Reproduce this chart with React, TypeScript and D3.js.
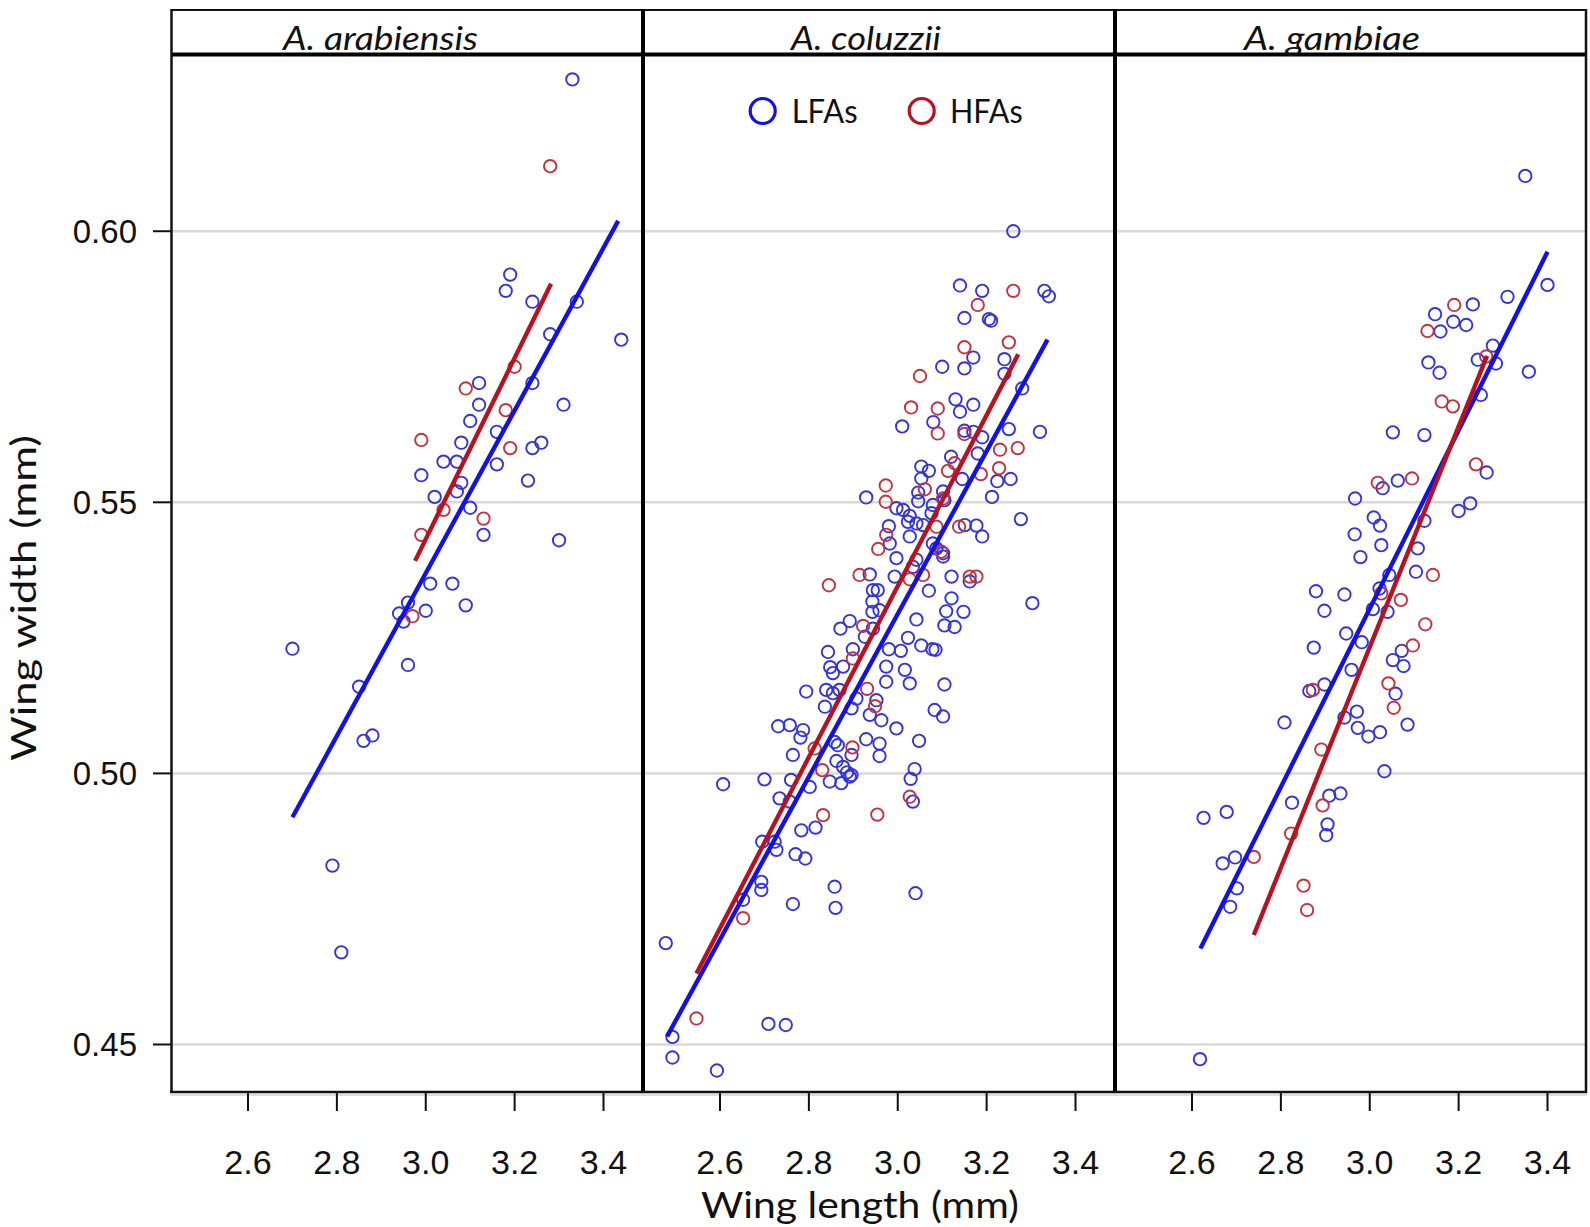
import React from "react";
import * as d3 from "d3";

// ---------------- DATA ----------------
const PANEL_TITLES = ["A. arabiensis", "A. coluzzii", "A. gambiae"];
const X_TICKS = [2.6, 2.8, 3.0, 3.2, 3.4];
const Y_TICKS = [0.45, 0.5, 0.55, 0.6];
const LEGEND_LABELS = ["LFAs", "HFAs"];

const arabiensisLFA: [number, number][] = [
  [3.33, 0.628], [3.19, 0.592], [3.18, 0.589], [3.24, 0.587], [3.34, 0.587], [3.28, 0.581], [3.44, 0.58],
  [3.12, 0.572], [3.24, 0.572], [3.31, 0.568], [3.12, 0.568], [3.1, 0.565], [3.16, 0.563], [3.08, 0.561],
  [3.26, 0.561], [3.24, 0.56], [3.04, 0.5575], [3.07, 0.5575], [3.16, 0.557], [2.99, 0.555], [3.23, 0.554],
  [3.08, 0.5536], [3.07, 0.552], [3.02, 0.551], [3.1, 0.549], [3.13, 0.544], [3.3, 0.543],
  [3.01, 0.535], [3.06, 0.535], [2.96, 0.5315], [2.94, 0.5295], [2.95, 0.528], [3.0, 0.53], [3.09, 0.531],
  [2.7, 0.523], [2.96, 0.52], [2.85, 0.516], [2.88, 0.507], [2.86, 0.506], [2.79, 0.483], [2.81, 0.467],
];
const arabiensisHFA: [number, number][] = [
  [3.28, 0.612], [3.2, 0.575], [3.09, 0.571], [3.18, 0.567], [2.99, 0.5615], [3.19, 0.56], [3.04, 0.5486],
  [3.13, 0.547], [2.99, 0.544], [2.97, 0.529],
];
const arabiensisFitLFA: [number, number][] = [[2.7, 0.4919], [3.433, 0.6019]];
const arabiensisFitHFA: [number, number][] = [[2.976, 0.5392], [3.282, 0.5903]];

const coluzziiLFA: [number, number][] = [
  [3.26, 0.6], [3.14, 0.59], [3.19, 0.589], [3.33, 0.589], [3.34, 0.588], [3.15, 0.584], [3.21, 0.5835],
  [3.205, 0.5838], [3.17, 0.5767], [3.1, 0.575], [3.15, 0.5747], [3.24, 0.5764], [3.24, 0.5737], [3.28, 0.571],
  [3.13, 0.569], [3.17, 0.568], [3.14, 0.5667], [3.08, 0.5648], [3.01, 0.564], [3.25, 0.5635], [3.32, 0.563],
  [3.15, 0.5632], [3.17, 0.563], [3.19, 0.562], [3.12, 0.5584], [3.18, 0.559],
  [3.053, 0.5566], [3.07, 0.5558], [3.053, 0.5544], [3.145, 0.5543], [3.224, 0.5539], [3.254, 0.5543],
  [2.929, 0.5509], [3.046, 0.5518], [3.046, 0.5502], [3.102, 0.552], [3.212, 0.551], [2.997, 0.5489],
  [3.012, 0.5486], [3.027, 0.5475], [3.023, 0.5464], [3.042, 0.5461], [3.057, 0.5458], [3.079, 0.5495],
  [3.076, 0.548], [3.105, 0.5504], [3.277, 0.5469], [2.98, 0.5456], [3.151, 0.5458], [3.177, 0.5457],
  [3.19, 0.5437], [3.027, 0.5437], [2.982, 0.5424], [3.079, 0.5424], [3.087, 0.5415], [3.102, 0.5406],
  [3.102, 0.54], [2.997, 0.5397], [3.042, 0.5394], [3.034, 0.5381], [2.937, 0.5367], [2.993, 0.5363],
  [3.121, 0.5363], [3.162, 0.5354], [2.944, 0.5338], [2.955, 0.5338], [3.07, 0.5337], [2.943, 0.5317],
  [3.121, 0.5323], [2.943, 0.5298], [2.959, 0.5301], [3.109, 0.5299], [3.148, 0.5298], [3.303, 0.5314],
  [3.042, 0.5284], [2.892, 0.5281], [2.871, 0.5267], [3.105, 0.5273], [3.128, 0.527], [2.944, 0.5267],
  [2.926, 0.5252], [3.023, 0.525], [2.843, 0.5224], [2.899, 0.5229], [2.98, 0.5229], [3.007, 0.5226],
  [3.053, 0.5236], [3.078, 0.5229], [3.085, 0.5228], [2.848, 0.5196], [2.877, 0.5197], [2.854, 0.5185],
  [2.974, 0.5197], [3.016, 0.5191],
  [2.974, 0.5169], [3.027, 0.5166], [3.105, 0.5164], [2.794, 0.5151], [2.839, 0.5154], [2.854, 0.5148],
  [2.869, 0.5154], [2.907, 0.5138], [2.836, 0.5123], [2.896, 0.512], [2.952, 0.5135], [2.937, 0.5108],
  [2.963, 0.5098], [2.997, 0.5083], [3.083, 0.5117], [3.102, 0.5105], [2.731, 0.5087], [2.757, 0.5089],
  [2.787, 0.508], [2.781, 0.5066], [2.858, 0.5058], [2.865, 0.5052], [2.929, 0.5063], [2.959, 0.5055],
  [3.048, 0.506], [2.764, 0.5034], [2.896, 0.5034], [2.959, 0.5032], [2.862, 0.5023], [2.877, 0.5012],
  [2.886, 0.5002], [2.896, 0.4997], [3.038, 0.5008], [2.607, 0.498], [2.7, 0.4989], [2.76, 0.4988],
  [2.802, 0.4975], [2.847, 0.4985], [2.873, 0.4982], [2.892, 0.4994], [3.029, 0.499], [2.734, 0.4954],
  [2.757, 0.4948], [3.034, 0.4948], [2.783, 0.4895], [2.815, 0.49], [2.695, 0.4874], [2.723, 0.4874],
  [2.727, 0.4859], [2.77, 0.4851], [2.792, 0.4843], [2.693, 0.48], [2.693, 0.4785], [2.858, 0.4791],
  [3.04, 0.4779],
  [2.652, 0.4767], [2.764, 0.4759], [2.86, 0.4752], [2.478, 0.4687], [2.493, 0.4514], [2.493, 0.4476],
  [2.593, 0.4452], [2.709, 0.4538], [2.748, 0.4536],
];
const coluzziiHFA: [number, number][] = [
  [3.26, 0.589], [3.18, 0.5864], [3.15, 0.5786], [3.25, 0.5795], [3.05, 0.5733], [3.03, 0.5675], [3.09, 0.5673],
  [3.09, 0.5627], [3.15, 0.5626], [3.23, 0.5597], [3.27, 0.56],
  [3.113, 0.5558], [3.128, 0.5572], [3.187, 0.5552], [3.228, 0.5563], [2.973, 0.5531], [2.973, 0.5501],
  [3.061, 0.5524], [3.102, 0.5507], [3.087, 0.5455], [3.138, 0.5455], [2.974, 0.544], [2.956, 0.5414],
  [3.098, 0.5409], [2.914, 0.5366], [2.845, 0.5347], [3.027, 0.5358], [3.057, 0.5366], [3.162, 0.5363],
  [3.177, 0.5363], [2.922, 0.5272], [2.899, 0.5212],
  [2.931, 0.5156], [2.949, 0.5124], [2.813, 0.5046], [2.898, 0.5048], [2.83, 0.5006], [3.027, 0.4957],
  [2.832, 0.4923], [2.954, 0.4924],
  [2.652, 0.4733], [2.547, 0.4548],
];
const coluzziiFitLFA: [number, number][] = [[2.481, 0.4515], [3.337, 0.58]];
const coluzziiFitHFA: [number, number][] = [[2.547, 0.4631], [3.271, 0.5773]];

const gambiaeLFA: [number, number][] = [
  [3.35, 0.6102], [3.4, 0.5901], [3.31, 0.5879], [3.232, 0.5865], [3.147, 0.5847], [3.188, 0.5833],
  [3.217, 0.5827], [3.159, 0.5815], [3.277, 0.5789], [3.243, 0.5763], [3.284, 0.5756], [3.132, 0.5758],
  [3.157, 0.5739], [3.358, 0.5741], [3.25, 0.5698], [3.052, 0.5629], [3.123, 0.5624], [3.263, 0.5555],
  [3.063, 0.554], [3.029, 0.5526], [2.967, 0.5507], [3.226, 0.5498], [3.2, 0.5484], [3.009, 0.5472],
  [3.023, 0.5457], [3.123, 0.5466], [2.966, 0.5441], [3.026, 0.5421], [3.108, 0.5415], [2.979, 0.5399],
  [3.104, 0.5372], [3.044, 0.5366],
  [2.879, 0.5336], [2.943, 0.533], [3.022, 0.5341], [3.007, 0.5303], [3.04, 0.5298], [2.898, 0.53],
  [2.947, 0.5258], [2.982, 0.5242], [2.874, 0.5232], [3.072, 0.5226], [3.052, 0.5209], [3.076, 0.5198],
  [2.959, 0.5191], [2.898, 0.5164], [2.864, 0.5152], [3.058, 0.5147], [2.808, 0.5094], [2.971, 0.5114],
  [2.943, 0.5103], [2.973, 0.5084], [2.997, 0.5068], [3.023, 0.5076], [3.085, 0.509], [3.033, 0.5004],
  [2.909, 0.4959], [2.934, 0.4963], [2.825, 0.4946], [2.626, 0.4918], [2.678, 0.4929], [2.905, 0.4906],
  [2.902, 0.4886], [2.669, 0.4834], [2.697, 0.4845], [2.701, 0.4788], [2.686, 0.4754], [2.618, 0.4473],
];
const gambiaeHFA: [number, number][] = [
  [3.19, 0.5864], [3.13, 0.5816], [3.262, 0.5769], [3.162, 0.5686], [3.187, 0.5677], [3.239, 0.557],
  [3.018, 0.5536], [3.095, 0.5544], [3.142, 0.5366], [3.026, 0.5332], [3.07, 0.532], [3.125, 0.5275],
  [3.097, 0.5236], [3.042, 0.5166], [3.054, 0.5121], [2.872, 0.5154], [2.891, 0.5044], [2.894, 0.4941],
  [2.823, 0.4889], [2.739, 0.4846], [2.851, 0.4793], [2.859, 0.4748],
];
const gambiaeFitLFA: [number, number][] = [[2.619, 0.4677], [3.4, 0.5962]];
const gambiaeFitHFA: [number, number][] = [[2.739, 0.4702], [3.264, 0.577]];

const PANELS = [
  { title: PANEL_TITLES[0], lfa: arabiensisLFA, hfa: arabiensisHFA, fitL: arabiensisFitLFA, fitH: arabiensisFitHFA },
  { title: PANEL_TITLES[1], lfa: coluzziiLFA, hfa: coluzziiHFA, fitL: coluzziiFitLFA, fitH: coluzziiFitHFA },
  { title: PANEL_TITLES[2], lfa: gambiaeLFA, hfa: gambiaeHFA, fitL: gambiaeFitLFA, fitH: gambiaeFitHFA },
];

// ---------------- LAYOUT / STYLE ----------------
const W = 1590;
const H = 1227;
const PANEL_LEFT = [171, 643, 1115];
const PANEL_W = 472;
const HEADER_TOP = 10;
const PLOT_TOP = 56;
const PLOT_BOTTOM = 1092;
const TITLE_X = [283, 791, 1244];
const TITLE_LEN = [195, 150, 176];

const BLUE_PT = "#3434d8";
const RED_PT = "#c0343f";
const BLUE_LINE = "#1212e4";
const RED_LINE = "#b8121f";
const TICK_FONT = "'Liberation Sans', Arial, sans-serif";
const TITLE_FONT = "Lato, 'Open Sans', sans-serif";

const yScale = d3.scaleLinear().domain([0.441238, 0.632317]).range([PLOT_BOTTOM, PLOT_TOP]);
const makeX = (left: number) => d3.scaleLinear().domain([2.42673, 3.48889]).range([left, left + PANEL_W]);

export default function App() {
  return (
    <div style={{ position: "absolute", left: 0, top: 0 }}>
      <svg width={W} height={H} viewBox={`0 0 ${W} ${H}`} style={{ display: "block", background: "#fff" }}>
        <rect x={0} y={0} width={W} height={H} fill="#fff" />
        {/* gridlines */}
        {PANELS.map((p, i) => {
          const L = PANEL_LEFT[i];
          return Y_TICKS.map((t) => (
            <line key={`g${i}-${t}`} x1={L} x2={L + PANEL_W} y1={yScale(t)} y2={yScale(t)} stroke="#d9d9d9" strokeWidth={2.5} />
          ));
        })}
        {/* points and fit lines */}
        {PANELS.map((p, i) => {
          const xs = makeX(PANEL_LEFT[i]);
          const line = d3.line<[number, number]>().x((d) => xs(d[0])).y((d) => yScale(d[1]));
          return (
            <g key={`p${i}`}>
              {p.lfa.map((d, j) => (
                <circle key={`b${j}`} cx={xs(d[0])} cy={yScale(d[1])} r={6.2} fill="none" stroke={BLUE_PT} strokeWidth={1.9} />
              ))}
              {p.hfa.map((d, j) => (
                <circle key={`r${j}`} cx={xs(d[0])} cy={yScale(d[1])} r={6.2} fill="none" stroke={RED_PT} strokeWidth={1.9} />
              ))}
              <path d={line(p.fitL) || ""} stroke={BLUE_LINE} strokeWidth={4.4} fill="none" />
              <path d={line(p.fitH) || ""} stroke={RED_LINE} strokeWidth={4.4} fill="none" />
            </g>
          );
        })}
        {/* header strip */}
        <line x1={171} x2={1587} y1={HEADER_TOP} y2={HEADER_TOP} stroke="#111" strokeWidth={2} />
        <line x1={171} x2={1587} y1={54.5} y2={54.5} stroke="#000" strokeWidth={4} />
        {PANELS.map((p, i) => (
          <text key={`t${i}`} x={TITLE_X[i]} y={50} fontFamily={TITLE_FONT} fontStyle="italic" fontSize={32}
            textLength={TITLE_LEN[i]} lengthAdjust="spacingAndGlyphs" fill="#111">
            {p.title}
          </text>
        ))}
        {/* frames */}
        <line x1={171.5} x2={171.5} y1={HEADER_TOP - 1} y2={PLOT_BOTTOM + 1} stroke="#111" strokeWidth={2.5} />
        <line x1={1586} x2={1586} y1={HEADER_TOP - 1} y2={PLOT_BOTTOM + 1} stroke="#111" strokeWidth={2.5} />
        <line x1={643} x2={643} y1={HEADER_TOP - 1} y2={PLOT_BOTTOM + 1} stroke="#000" strokeWidth={4} />
        <line x1={1115} x2={1115} y1={HEADER_TOP - 1} y2={PLOT_BOTTOM + 1} stroke="#000" strokeWidth={4} />
        <line x1={170} x2={1587} y1={PLOT_BOTTOM} y2={PLOT_BOTTOM} stroke="#111" strokeWidth={2.5} />
        <line x1={170} x2={1587} y1={PLOT_BOTTOM + 3} y2={PLOT_BOTTOM + 3} stroke="#bbb" strokeWidth={1.2} />
        {/* y axis ticks and labels */}
        {Y_TICKS.map((t) => (
          <g key={`yt${t}`}>
            <line x1={153} x2={171} y1={yScale(t)} y2={yScale(t)} stroke="#111" strokeWidth={2} />
            <text x={137} y={yScale(t) + 12} textAnchor="end" fontFamily={TICK_FONT} fontSize={33} fill="#111">
              {d3.format(".2f")(t)}
            </text>
          </g>
        ))}
        {/* x axis ticks and labels */}
        {PANELS.map((p, i) => {
          const xs = makeX(PANEL_LEFT[i]);
          return X_TICKS.map((t) => (
            <g key={`xt${i}-${t}`}>
              <line x1={xs(t)} x2={xs(t)} y1={PLOT_BOTTOM} y2={PLOT_BOTTOM + 19} stroke="#111" strokeWidth={2} />
              <text x={xs(t)} y={1174} textAnchor="middle" fontFamily={TICK_FONT} fontSize={34} fill="#111">
                {d3.format(".1f")(t)}
              </text>
            </g>
          ));
        })}
        {/* axis titles */}
        <text x={860} y={1218} textAnchor="middle" fontFamily={TITLE_FONT} fontSize={36} fill="#111"
          textLength={318} lengthAdjust="spacingAndGlyphs">
          Wing length (mm)
        </text>
        <text transform="translate(36,598) rotate(-90)" textAnchor="middle" fontFamily={TITLE_FONT} fontSize={35} fill="#111"
          textLength={326} lengthAdjust="spacingAndGlyphs">
          Wing width (mm)
        </text>
        {/* legend */}
        <circle cx={762.7} cy={111} r={12.5} fill="none" stroke={BLUE_LINE} strokeWidth={3.2} />
        <text x={791.7} y={123.3} fontFamily={TITLE_FONT} fontSize={32} fill="#111" textLength={66} lengthAdjust="spacingAndGlyphs">
          {LEGEND_LABELS[0]}
        </text>
        <circle cx={921.7} cy={111} r={12.5} fill="none" stroke={RED_LINE} strokeWidth={3.2} />
        <text x={950} y={123.3} fontFamily={TITLE_FONT} fontSize={32} fill="#111" textLength={72.7} lengthAdjust="spacingAndGlyphs">
          {LEGEND_LABELS[1]}
        </text>
      </svg>
    </div>
  );
}
